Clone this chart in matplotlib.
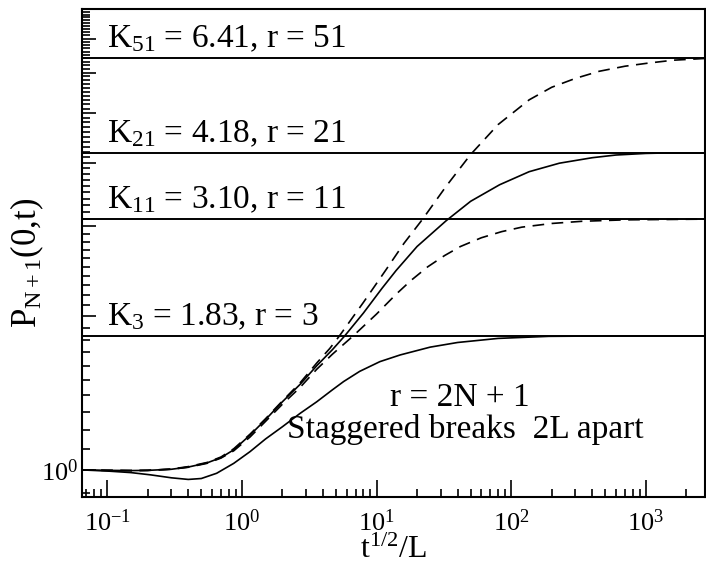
"""P_{N+1}(0,t) for staggered breaks 2L apart, log-log."""

import matplotlib
matplotlib.use("Agg")
import matplotlib.pyplot as plt
from matplotlib.ticker import FixedLocator, MultipleLocator, NullFormatter, FuncFormatter, LogLocator

plt.rcParams["font.family"] = ["Liberation Serif", "DejaVu Serif"]
plt.rcParams["mathtext.fontset"] = "custom"
plt.rcParams["mathtext.rm"] = "Liberation Serif"
plt.rcParams["mathtext.it"] = "Liberation Serif:italic"

# r = 3 (solid), K3 = 1.83
x_r3 = [0.065, 0.1, 0.15, 0.21, 0.3, 0.4, 0.5, 0.65, 0.87, 1.15, 1.5, 2.0, 2.7, 3.6, 4.7,
        5.7, 7.5, 10.6, 15, 25, 40, 80, 190, 500, 2750]
y_r3 = [1.0, 0.995, 0.988, 0.978, 0.965, 0.958, 0.962, 0.985, 1.03, 1.086, 1.15, 1.215, 1.29,
        1.36, 1.435, 1.49, 1.56, 1.63, 1.68, 1.74, 1.777, 1.81, 1.827, 1.83, 1.83]

# r = 11 (dashed), K11 = 3.10
x_r11 = [0.065, 0.1, 0.15, 0.2, 0.3, 0.4, 0.55, 0.7, 0.87, 1.15, 1.5, 2.0, 2.7, 3.6, 4.7,
         6.7, 10, 14, 18, 24, 32, 42, 60, 85, 120, 200, 335, 700, 2750]
y_r11 = [1.0, 0.998, 0.997, 0.998, 1.003, 1.012, 1.03, 1.055, 1.09, 1.16, 1.245, 1.345, 1.45,
         1.575, 1.685, 1.83, 2.02, 2.21, 2.35, 2.50, 2.63, 2.74, 2.85, 2.93, 2.99, 3.04, 3.07,
         3.09, 3.10]

# r = 21 (solid), K21 = 4.18
x_r21 = [0.065, 0.1, 0.15, 0.2, 0.3, 0.4, 0.55, 0.7, 0.87, 1.15, 1.5, 2.0, 2.7, 3.6, 4.7,
         5.8, 8, 11, 14, 20, 33, 50, 82, 136, 228, 400, 600, 1000, 1500, 2750]
y_r21 = [1.0, 0.998, 0.997, 0.998, 1.003, 1.013, 1.032, 1.057, 1.095, 1.17, 1.255, 1.36, 1.47,
         1.60, 1.72, 1.83, 2.03, 2.27, 2.46, 2.74, 3.08, 3.36, 3.62, 3.84, 3.99, 4.09, 4.14,
         4.17, 4.18, 4.18]

# r = 51 (dashed), K51 = 6.41
x_r51 = [0.065, 0.1, 0.15, 0.2, 0.3, 0.4, 0.55, 0.7, 0.87, 1.15, 1.5, 2.0, 2.7, 3.6, 4.5,
         5.3, 8, 11.8, 16, 22, 33, 50, 80, 136, 200, 300, 450, 700, 1055, 1600, 2750]
y_r51 = [1.0, 0.998, 0.997, 0.998, 1.004, 1.015, 1.034, 1.06, 1.1, 1.175, 1.26, 1.365, 1.48,
         1.62, 1.73, 1.83, 2.13, 2.47, 2.78, 3.10, 3.60, 4.15, 4.75, 5.31, 5.62, 5.85, 6.04,
         6.18, 6.27, 6.35, 6.40]

K_values = [6.41, 4.18, 3.10, 1.83]
K_labels = [r"K$_{51}$ = 6.41, r = 51", r"K$_{21}$ = 4.18, r = 21",
            r"K$_{11}$ = 3.10, r = 11", r"K$_{3}$ = 1.83, r = 3"]

fig = plt.figure(figsize=(7.06, 5.70), dpi=100)
ax = fig.add_axes([82 / 706, 73 / 570, 623 / 706, 488 / 570])

ax.set_xscale("log")
ax.set_yscale("log")
ax.set_xlim(0.065, 2750)
ax.set_ylim(0.885, 8.0)

lw = 1.2
ax.plot(x_r3, y_r3, color="black", lw=lw)
ax.plot(x_r11, y_r11, color="black", lw=lw, dashes=(7, 4.5))
ax.plot(x_r21, y_r21, color="black", lw=lw)
ax.plot(x_r51, y_r51, color="black", lw=lw, dashes=(7, 4.5))

for k, label in zip(K_values, K_labels):
    ax.axhline(k, color="black", lw=1.4)
    ax.annotate(label, xy=(0.1, k), xytext=(0, 3), textcoords="offset points",
                ha="left", va="bottom", fontsize=24)

ax.text(0.607, 0.186, "r = 2N + 1", transform=ax.transAxes, ha="center", va="baseline", fontsize=24)
ax.text(0.616, 0.12, "Staggered breaks  2L apart", transform=ax.transAxes, ha="center",
        va="baseline", fontsize=24)

# ticks
ax.xaxis.set_major_locator(LogLocator(base=10, numticks=10))
ax.xaxis.set_minor_locator(LogLocator(base=10, subs=range(2, 10), numticks=10))
ax.xaxis.set_minor_formatter(NullFormatter())
ax.yaxis.set_major_locator(FixedLocator([1, 2, 3, 4, 5, 6, 7, 8]))
ax.yaxis.set_major_formatter(FuncFormatter(lambda v, p: r"$10^0$" if abs(v - 1) < 1e-9 else ""))
ax.yaxis.set_minor_locator(MultipleLocator(0.1))
ax.yaxis.set_minor_formatter(NullFormatter())
ax.tick_params(which="both", direction="in", top=False, right=False, labelsize=19, width=1.2)
ax.tick_params(axis="x", which="major", length=12, pad=9)
ax.tick_params(axis="x", which="minor", length=6)
ax.tick_params(axis="y", which="major", length=10, pad=3)
ax.tick_params(axis="y", which="minor", length=6)

for s in ax.spines.values():
    s.set_linewidth(1.5)

ax.set_xlabel(r"t$^{1/2}$/L", fontsize=23, labelpad=0)
ax.set_ylabel(r"P$_{\mathrm{N+1}}$(0,t)", fontsize=25)
ax.yaxis.set_label_coords(-0.058, 0.48)

fig.savefig("out.png", dpi=100)
